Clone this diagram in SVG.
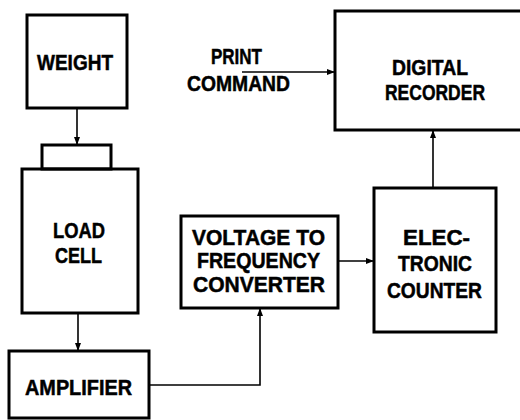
<svg xmlns="http://www.w3.org/2000/svg" width="520" height="420" viewBox="0 0 520 420">
<style>
.box{fill:none;stroke:#000;stroke-width:3}
.lbl{font-family:"Liberation Sans",Arial,sans-serif;font-weight:bold;font-size:22px;fill:#000;stroke:#000;stroke-width:0.5}
.con{fill:none;stroke:#000;stroke-width:1.6}
</style>
<defs>
<marker id="ah" markerWidth="8" markerHeight="6" refX="8" refY="3" orient="auto" markerUnits="userSpaceOnUse">
<path d="M0,0 L8,3 L0,6 Z" fill="#000"/>
</marker>
</defs>
<rect width="520" height="420" fill="#fff"/>
<g id="weight">
<rect class="box" x="27" y="15" width="100" height="93"/>
<text class="lbl" x="37" y="70" textLength="76" lengthAdjust="spacingAndGlyphs">WEIGHT</text>
</g>
<g id="loadcell">
<rect class="box" x="42" y="145" width="69" height="24"/>
<rect class="box" x="22" y="169" width="116" height="144"/>
<text class="lbl" x="53" y="238" textLength="52" lengthAdjust="spacingAndGlyphs">LOAD</text>
<text class="lbl" x="55" y="263" textLength="47" lengthAdjust="spacingAndGlyphs">CELL</text>
</g>
<g id="amplifier">
<rect class="box" x="9" y="351" width="140" height="67"/>
<text class="lbl" x="25" y="395" textLength="107" lengthAdjust="spacingAndGlyphs">AMPLIFIER</text>
</g>
<g id="vtf">
<rect class="box" x="181" y="216" width="157" height="92"/>
<text class="lbl" x="192" y="245" textLength="133" lengthAdjust="spacingAndGlyphs">VOLTAGE  TO</text>
<text class="lbl" x="197" y="268" textLength="123" lengthAdjust="spacingAndGlyphs">FREQUENCY</text>
<text class="lbl" x="193" y="292" textLength="132" lengthAdjust="spacingAndGlyphs">CONVERTER</text>
</g>
<g id="counter">
<rect class="box" x="374" y="188" width="122" height="144"/>
<text class="lbl" x="403" y="245" textLength="67" lengthAdjust="spacingAndGlyphs">ELEC-</text>
<text class="lbl" x="398" y="271" textLength="74" lengthAdjust="spacingAndGlyphs">TRONIC</text>
<text class="lbl" x="387" y="298" textLength="95" lengthAdjust="spacingAndGlyphs">COUNTER</text>
</g>
<g id="recorder">
<path class="box" d="M522,11 H335 V130 H522"/>
<text class="lbl" x="392" y="75" textLength="76" lengthAdjust="spacingAndGlyphs">DIGITAL</text>
<text class="lbl" x="385" y="100" textLength="100" lengthAdjust="spacingAndGlyphs">RECORDER</text>
</g>
<g id="printcommand">
<text class="lbl" x="211" y="64" textLength="51" lengthAdjust="spacingAndGlyphs">PRINT</text>
<text class="lbl" x="187" y="91" textLength="103" lengthAdjust="spacingAndGlyphs">COMMAND</text>
</g>
<g id="connectors">
<line class="con" x1="77" y1="108" x2="77" y2="145" marker-end="url(#ah)"/>
<line class="con" x1="78" y1="313" x2="78" y2="351" marker-end="url(#ah)"/>
<polyline class="con" points="149,385 260,385 260,308" marker-end="url(#ah)"/>
<line class="con" x1="338" y1="261" x2="374" y2="261" marker-end="url(#ah)"/>
<line class="con" x1="433" y1="188" x2="433" y2="130" marker-end="url(#ah)"/>
<line class="con" x1="242" y1="72" x2="335" y2="72" marker-end="url(#ah)"/>
</g>
</svg>
